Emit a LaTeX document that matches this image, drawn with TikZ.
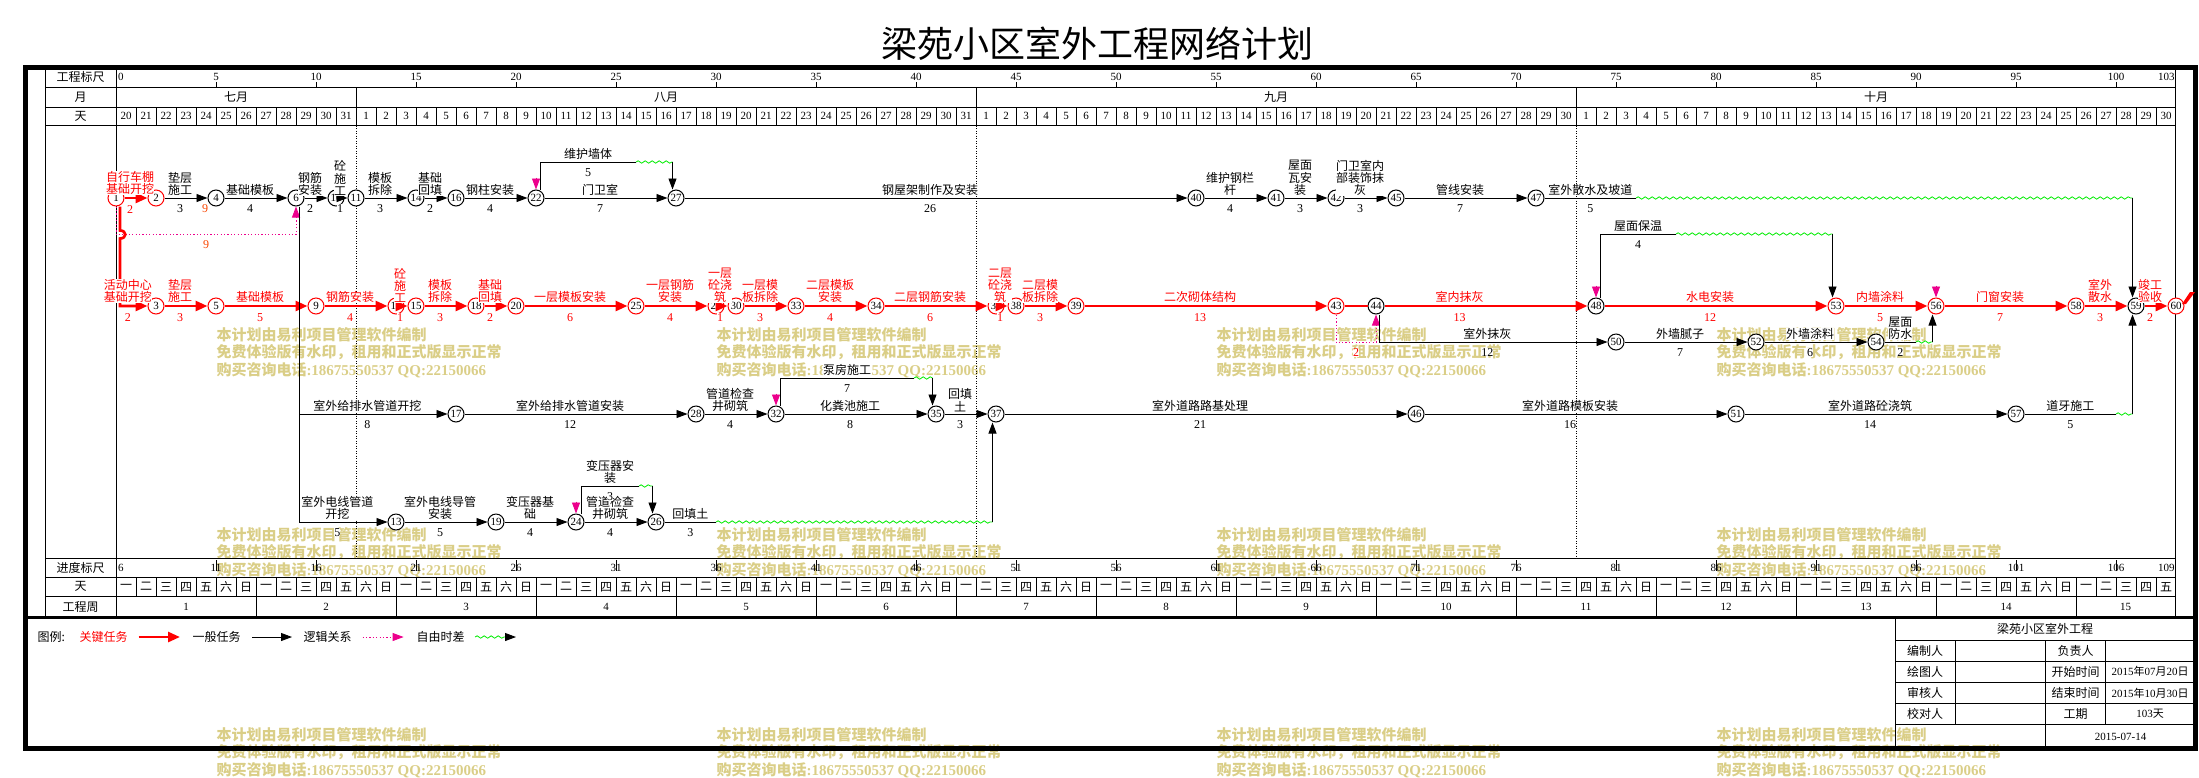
\documentclass[tikz,border=0pt]{standalone}
\usepackage{fontspec}
\setmainfont{Liberation Serif}
\newfontfamily\cjk{Noto Sans CJK SC}
\usetikzlibrary{arrows.meta,decorations.pathmorphing}
\definecolor{flt}{RGB}{0,235,0}
\definecolor{nine}{RGB}{250,70,0}
\definecolor{wmk}{RGB}{218,206,135}
\newcommand\zh[1]{{\cjk #1}}
\newcommand\labf{\cjk\fontsize{12}{12.3}\selectfont}
\newcommand\numf{\fontsize{12}{12}\selectfont}
\newcommand\smf{\fontsize{11}{11}\selectfont}

\tikzset{
  nd/.style={circle, draw, fill=white, minimum size=16pt, inner sep=0pt, font=\smf},
  cn/.style={nd, draw=red},
  task/.style={line width=0.9pt, -{Triangle[length=11pt,width=8pt]}},
  crit/.style={red, line width=2.7pt, -{Triangle[length=12pt,width=10pt]}},
  critline/.style={red, line width=2.7pt},
  logic/.style={magenta, line width=0.9pt, dash pattern=on 1.2pt off 2.2pt, -{Triangle[length=11pt,width=8pt]}},
  wav/.style={flt, line width=0.8pt, decorate, decoration={snake, amplitude=1.2pt, segment length=7pt}},
  lab0/.style={above=2pt, inner sep=0pt, fill=white, align=center, font=\labf},
  dur0/.style={below=6pt, inner sep=0pt, fill=white, font=\numf},
  lab/.style={lab0, xshift=-6pt},
  dur/.style={dur0, xshift=-6pt},
  clab/.style={lab, text=red},
  cdur/.style={dur, text=red},
  hd/.style={font=\labf, inner sep=0pt},
  hn/.style={font=\smf, inner sep=0pt},
  wmark/.style={anchor=west, inner sep=0pt, text=wmk, font=\bfseries\fontsize{15}{15}\selectfont},
}

\begin{document}
\begin{tikzpicture}[x=1pt, y=-1pt, line width=1pt]
    \useasboundingbox (0,0) rectangle (2199,777);

    % watermark
    \foreach \wx in {216,716,1216,1716} \foreach \wy in {335,535,735} {
      \node[wmark] (wa\wx\wy) at (\wx,\wy) {\zh{本计划由易利项目管理软件编制}};
      \node[wmark] (wb\wx\wy) at (\wx,\wy+17.5) {\zh{免费体验版有水印，租用和正式版显示正常}};
      \node[wmark] (wc\wx\wy) at (\wx,\wy+35) {\zh{购买咨询电话}:18675550537 QQ:22150066};
    }

    \node[font=\cjk\fontsize{36}{36}\selectfont, inner sep=0pt] (ttl) at (1097,43.5) {梁苑小区室外工程网络计划};

    % frame and scales
    \draw[line width=4.5pt] (25.5,67.7) rectangle (2195.5,748.5);
    \draw[line width=2.5pt] (25.5,617.5) -- (2195.5,617.5);
    \draw (45,67.7) -- (45,617.5) (116,67.7) -- (116,617.5) (2175,67.7) -- (2175,617.5);
    \foreach \y in {87.5,107,125.5,558.3,577.3,596.3} \draw (45,\y) -- (2175,\y);
    \foreach \i in {1,...,102} \draw ({116+20*\i},107) -- ({116+20*\i},125.5) ({116+20*\i},577.3) -- ({116+20*\i},596.3);
    \foreach \m in {12,43,73} {
      \draw ({116+20*\m},87.5) -- ({116+20*\m},107);
      \draw[line width=0.8pt, dash pattern=on 1pt off 1.5pt] ({116+20*\m},125.5) -- ({116+20*\m},558.3);
    }
    \foreach \t in {5,10,...,100} {
      \draw ({116+20*\t},82) -- ({116+20*\t},87.5);
      \draw ({116+20*\t},560) -- ({116+20*\t},571);
    }
    \foreach \k in {1,...,14} \draw ({116+140*\k},596.3) -- ({116+140*\k},617.5);

    \node[hd] (l1) at (80.5,77.3) {工程标尺};
    \node[hd] (l2) at (80.5,97.3) {月};
    \node[hd] (l3) at (80.5,116.3) {天};
    \node[hd] (l4) at (80.5,567.5) {进度标尺};
    \node[hd] (l5) at (80.5,586.8) {天};
    \node[hd] (l6) at (80.5,606.8) {工程周};

    \node[hn,anchor=west] (gk0) at (117.5,77.3) {0};
    \node[hn,anchor=east] (gk103) at (2175,77.3) {103};
    \foreach \t in {5,10,...,100} \node[hn] (gk\t) at ({116+20*\t},77.3) {\t};
    \node[hn,anchor=west] (jd0) at (117.5,567.5) {6};
    \node[hn,anchor=east] (jd103) at (2175,567.5) {109};
    \foreach \t [evaluate=\t as \s using int(\t+6)] in {5,10,...,100} \node[hn] (jd\t) at ({116+20*\t},567.5) {\s};

    \node[hd] (m7) at (236,97.3) {七月};
    \node[hd] (m8) at (666,97.3) {八月};
    \node[hd] (m9) at (1276,97.3) {九月};
    \node[hd] (m10) at (1876,97.3) {十月};
    \foreach \d [count=\i from 0] in {20,...,31} \node[hn] (dj\d) at ({126+20*\i},116.3) {\d};
    \foreach \d in {1,...,31} \node[hn] (da\d) at ({126+20*(11+\d)},116.3) {\d};
    \foreach \d in {1,...,30} \node[hn] (ds\d) at ({126+20*(42+\d)},116.3) {\d};
    \foreach \d in {1,...,30} \node[hn] (do\d) at ({126+20*(72+\d)},116.3) {\d};

    \foreach \i in {0,...,102} {
      \pgfmathtruncatemacro\w{mod(\i,7)}
      \node[hd] (wd\i) at ({126+20*\i},586.8) {\ifcase\w 一\or 二\or 三\or 四\or 五\or 六\or 日\fi};
    }
    \foreach \k in {1,...,14} \node[hn] (wk\k) at ({46+140*\k},606.8) {\k};
    \node[hn] (wk15) at (2125.5,606.8) {15};

    % network
    \begin{scope}[shift={(116pt,0pt)}, x=20pt]
    \node[cn] (n1) at (0,198) {1};
    \node[cn] (n2) at (2,198) {2};
    \node[nd] (n4) at (5,198) {4};
    \node[nd] (n6) at (9,198) {6};
    \node[nd] (n10) at (11,198) {10};
    \node[nd] (n11) at (12,198) {11};
    \node[nd] (n14) at (15,198) {14};
    \node[nd] (n16) at (17,198) {16};
    \node[nd] (n22) at (21,198) {22};
    \node[nd] (n27) at (28,198) {27};
    \node[nd] (n40) at (54,198) {40};
    \node[nd] (n41) at (58,198) {41};
    \node[nd] (n42) at (61,198) {42};
    \node[nd] (n45) at (64,198) {45};
    \node[nd] (n47) at (71,198) {47};

    \node[cn] (n3) at (2,306) {3};
    \node[cn] (n5) at (5,306) {5};
    \node[cn] (n9) at (10,306) {9};
    \node[cn] (n12) at (14,306) {12};
    \node[cn] (n15) at (15,306) {15};
    \node[cn] (n18) at (18,306) {18};
    \node[cn] (n20) at (20,306) {20};
    \node[cn] (n25) at (26,306) {25};
    \node[cn] (n29) at (30,306) {29};
    \node[cn] (n30) at (31,306) {30};
    \node[cn] (n33) at (34,306) {33};
    \node[cn] (n34) at (38,306) {34};
    \node[cn] (n36) at (44,306) {36};
    \node[cn] (n38) at (45,306) {38};
    \node[cn] (n39) at (48,306) {39};
    \node[cn] (n43) at (61,306) {43};
    \node[nd] (n44) at (63,306) {44};
    \node[nd] (n48) at (74,306) {48};
    \node[cn] (n53) at (86,306) {53};
    \node[cn] (n56) at (91,306) {56};
    \node[cn] (n58) at (98,306) {58};
    \node[nd] (n59) at (101,306) {59};
    \node[cn] (n60) at (103,306) {60};

    \node[nd] (n50) at (75,342) {50};
    \node[nd] (n52) at (82,342) {52};
    \node[nd] (n54) at (88,342) {54};

    \node[nd] (n17) at (17,414) {17};
    \node[nd] (n28) at (29,414) {28};
    \node[nd] (n32) at (33,414) {32};
    \node[nd] (n35) at (41,414) {35};
    \node[nd] (n37) at (44,414) {37};
    \node[nd] (n46) at (65,414) {46};
    \node[nd] (n51) at (81,414) {51};
    \node[nd] (n57) at (95,414) {57};

    \node[nd] (n13) at (14,522) {13};
    \node[nd] (n19) at (19,522) {19};
    \node[nd] (n24) at (23,522) {24};
    \node[nd] (n26) at (27,522) {26};

    \coordinate (s6) at ([xshift=3pt]n6.south);
    \coordinate (s44) at ([xshift=3pt]n44.south);
    \coordinate (u22) at ([xshift=4pt]n22.north);
    \coordinate (u32) at ([xshift=4pt]n32.north);
    \coordinate (u24) at ([xshift=5pt]n24.north);
    \coordinate (u48) at ([xshift=4pt]n48.north);
    \coordinate (t27) at ([xshift=-3.5pt]n27.north);
    \coordinate (t35) at ([xshift=-3.5pt]n35.north);
    \coordinate (t26) at ([xshift=-3.5pt]n26.north);
    \coordinate (t53) at ([xshift=-3.5pt]n53.north);
    \coordinate (t59) at ([xshift=-3.5pt]n59.north);
    \coordinate (b56) at ([xshift=-3.5pt]n56.south);
    \coordinate (b59) at ([xshift=-3.5pt]n59.south);
    \coordinate (b37) at ([xshift=-3.5pt]n37.south);
    \coordinate (w22) at (26,162);
    \coordinate (w47) at (76,198);
    \coordinate (w48) at (78,234);
    \coordinate (w54) at (90,342);
    \coordinate (w32) at (39.9,378);
    \coordinate (w57) at (100,414);
    \coordinate (w24) at (26.15,486);
    \coordinate (w26) at (30,522);

    % logic links
    \draw[logic] (n1.south) -- ++(0,28) -| node[pos=0.25,dur0,text=nine]{9} (n6);
    \draw[logic] (n43.south) -- ++(0,28) -| node[pos=0.25,dur0,text=red]{2} (n44);
    \foreach \m in {22,24,32,48,56} \draw[logic] ([yshift=12pt]n\m.north) -- (n\m.north);
    \node[dur0,text=nine] (x9) at (4.45,198) {9};

    % row 1
    \draw[crit] (n1) -- node[clab]{自行车棚\\基础开挖} node[cdur]{2} (n2);
    \draw[task] (n2) -- node[lab]{垫层\\施工} node[dur]{3} (n4);
    \draw[task] (n4) -- node[lab]{基础模板} node[dur]{4} (n6);
    \draw[task] (n6) -- node[lab]{钢筋\\安装} node[dur]{2} (n10);
    \draw[task] (n10) -- node[lab]{砼\\施\\工} node[dur]{1} (n11);
    \draw[task] (n11) -- node[lab]{模板\\拆除} node[dur]{3} (n14);
    \draw[task] (n14) -- node[lab]{基础\\回填} node[dur]{2} (n16);
    \draw[task] (n16) -- node[lab]{钢柱安装} node[dur]{4} (n22);
    \draw[task] (n22) -- node[lab]{门卫室} node[dur]{7} (n27);
    \draw[task,-] (u22) |- node[pos=0.75,lab0]{维护墙体} node[pos=0.75,dur0]{5} (w22);
    \draw[wav] (w22) -- (w22 -| t27);
    \draw[task] (w22 -| t27) -- (t27);
    \draw[task] (n27) -- node[lab]{钢屋架制作及安装} node[dur]{26} (n40);
    \draw[task] (n40) -- node[lab]{维护钢栏\\杆} node[dur]{4} (n41);
    \draw[task] (n41) -- node[lab]{屋面\\瓦安\\装} node[dur]{3} (n42);
    \draw[task] (n42) -- node[lab]{门卫室内\\部装饰抹\\灰} node[dur]{3} (n45);
    \draw[task] (n45) -- node[lab]{管线安装} node[dur]{7} (n47);
    \draw[task,-] (n47) -- node[lab0]{室外散水及坡道} node[dur0]{5} (w47);
    \draw[wav] (w47) -- (w47 -| t59);
    \draw[task] (w47 -| t59) -- (t59);

    % row 2, critical
    \draw[crit] ([xshift=4pt]n1.south) -- ++(0,24) .. controls +(7pt,0pt) and +(7pt,0pt) .. ++(0,8) |- node[pos=0.75,clab]{活动中心\\基础开挖} node[pos=0.75,cdur]{2} (n3);
    \draw[crit] (n3) -- node[clab]{垫层\\施工} node[cdur]{3} (n5);
    \draw[crit] (n5) -- node[clab]{基础模板} node[cdur]{5} (n9);
    \draw[crit] (n9) -- node[clab]{钢筋安装} node[cdur]{4} (n12);
    \draw[crit] (n12) -- node[clab]{砼\\施\\工} node[cdur]{1} (n15);
    \draw[crit] (n15) -- node[clab]{模板\\拆除} node[cdur]{3} (n18);
    \draw[crit] (n18) -- node[clab]{基础\\回填} node[cdur]{2} (n20);
    \draw[crit] (n20) -- node[clab]{一层模板安装} node[cdur]{6} (n25);
    \draw[crit] (n25) -- node[clab]{一层钢筋\\安装} node[cdur]{4} (n29);
    \draw[crit] (n29) -- node[clab]{一层\\砼浇\\筑} node[cdur]{1} (n30);
    \draw[crit] (n30) -- node[clab]{一层模\\板拆除} node[cdur]{3} (n33);
    \draw[crit] (n33) -- node[clab]{二层模板\\安装} node[cdur]{4} (n34);
    \draw[crit] (n34) -- node[clab]{二层钢筋安装} node[cdur]{6} (n36);
    \draw[crit] (n36) -- node[clab]{二层\\砼浇\\筑} node[cdur]{1} (n38);
    \draw[crit] (n38) -- node[clab]{二层模\\板拆除} node[cdur]{3} (n39);
    \draw[crit] (n39) -- node[clab]{二次砌体结构} node[cdur]{13} (n43);
    \draw[critline] (n43) -- (n44);
    \draw[crit] (n44) -- node[pos=0.4,clab]{室内抹灰} node[pos=0.4,cdur]{13} (n48);
    \draw[crit] (n48) -- node[clab]{水电安装} node[cdur]{12} (n53);
    \draw[crit] (n53) -- node[clab]{内墙涂料} node[cdur]{5} (n56);
    \draw[crit] (n56) -- node[clab]{门窗安装} node[cdur]{7} (n58);
    \draw[crit] (n58) -- node[clab]{室外\\散水} node[cdur]{3} (n59);
    \draw[crit] (n59) -- node[clab]{竣工\\验收} node[cdur]{2} (n60);
    \draw[task,-] (u48) |- node[pos=0.75,lab0]{屋面保温} node[pos=0.75,dur0]{4} (w48);
    \draw[wav] (w48) -- (w48 -| t53);
    \draw[task] (w48 -| t53) -- (t53);
    \draw[task] (s44) |- node[pos=0.75,lab]{室外抹灰} node[pos=0.75,dur]{12} (n50);
    \draw[task] (n50) -- node[lab]{外墙腻子} node[dur]{7} (n52);
    \draw[task] (n52) -- node[lab]{外墙涂料} node[dur]{6} (n54);
    \draw[task,-] (n54) -- node[lab0]{屋面\\防水} node[dur0]{2} (w54);
    \draw[wav] (w54) -- (w54 -| b56);
    \draw[task] (w54 -| b56) -- (b56);

    % row 3
    \draw[task] (s6) |- node[pos=0.75,lab]{室外给排水管道开挖} node[pos=0.75,dur]{8} (n17);
    \draw[task] (n17) -- node[lab]{室外给排水管道安装} node[dur]{12} (n28);
    \draw[task] (n28) -- node[lab]{管道检查\\井砌筑} node[dur]{4} (n32);
    \draw[task] (n32) -- node[lab]{化粪池施工} node[dur]{8} (n35);
    \draw[task,-] (u32) |- node[pos=0.75,lab0]{泵房施工} node[pos=0.75,dur0]{7} (w32);
    \draw[wav] (w32) -- (w32 -| t35);
    \draw[task] (w32 -| t35) -- (t35);
    \draw[task] (n35) -- node[lab]{回填\\土} node[dur]{3} (n37);
    \draw[task] (n37) -- node[lab]{室外道路路基处理} node[dur]{21} (n46);
    \draw[task] (n46) -- node[lab]{室外道路模板安装} node[dur]{16} (n51);
    \draw[task] (n51) -- node[lab]{室外道路砼浇筑} node[dur]{14} (n57);
    \draw[task,-] (n57) -- node[lab0]{道牙施工} node[dur0]{5} (w57);
    \draw[wav] (w57) -- (w57 -| b59);
    \draw[task] (w57 -| b59) -- (b59);

    % row 4
    \draw[task] (s6) |- node[pos=0.75,lab]{室外电线管道\\开挖} node[pos=0.75,dur]{5} (n13);
    \draw[task] (n13) -- node[lab]{室外电线导管\\安装} node[dur]{5} (n19);
    \draw[task] (n19) -- node[lab]{变压器基\\础} node[dur]{4} (n24);
    \draw[task] (n24) -- node[lab]{管道检查\\井砌筑} node[dur]{4} (n26);
    \draw[task,-] (u24) |- node[pos=0.75,lab0]{变压器安\\装} node[pos=0.75,dur0]{3} (w24);
    \draw[wav] (w24) -- (w24 -| t26);
    \draw[task] (w24 -| t26) -- (t26);
    \draw[task,-] (n26) -- node[lab0]{回填土} node[dur0]{3} (w26);
    \draw[wav] (w26) -- (w26 -| b37);
    \draw[task] (w26 -| b37) -- (b37);
    \end{scope}

    \fill[red] ([shift={(6pt,2pt)}]n60.center) -- ([shift={(14pt,14pt)}]n60.center) -- ([shift={(19pt,14pt)}]n60.center) -- ([shift={(10pt,2pt)}]n60.center) -- cycle;

    % legend
    \node[hd,anchor=west] (lg0) at (37,637) {图例:};
    \node[hd,anchor=west,text=red] (lg1) at (79,637) {关键任务};
    \node[hd,anchor=west] (lg2) at (192,637) {一般任务};
    \node[hd,anchor=west] (lg3) at (303,637) {逻辑关系};
    \node[hd,anchor=west] (lg4) at (416,637) {自由时差};
    \coordinate (la1) at (138.6,637); \coordinate (lb1) at (180,637);
    \coordinate (la2) at (252,637); \coordinate (lb2) at (292,637);
    \coordinate (la3) at (362.5,637); \coordinate (lb3) at (403.6,637);
    \coordinate (la4) at (475,637); \coordinate (lm4) at (505,637); \coordinate (lb4) at (516,637);
    \draw[crit] (la1) -- (lb1);
    \draw[task] (la2) -- (lb2);
    \draw[logic] (la3) -- (lb3);
    \draw[wav] (la4) -- (lm4);
    \draw[task] (lm4) -- (lb4);

    % title block
    \draw (1895,617.5) -- (1895,748.5);
    \foreach \y in {640,661,682.3,703.3,724.3} \draw (1895,\y) -- (2195.5,\y);
    \draw (1955.5,640) -- (1955.5,724.3) (2045.7,640) -- (2045.7,748.5) (2105.2,640) -- (2105.2,724.3);
    \node[hd] (tb0) at (2045,628.5) {梁苑小区室外工程};
    \node[hd] (tb1) at (1925,650.5) {编制人};
    \node[hd] (tb2) at (1925,671.7) {绘图人};
    \node[hd] (tb3) at (1925,692.8) {审核人};
    \node[hd] (tb4) at (1925,713.8) {校对人};
    \node[hd] (tb5) at (2075.5,650.5) {负责人};
    \node[hd] (tb6) at (2075.5,671.7) {开始时间};
    \node[hd] (tb7) at (2075.5,692.8) {结束时间};
    \node[hd] (tb8) at (2075.5,713.8) {工期};
    \node[hn] (tb9) at (2150,671.7) {2015\zh{年}07\zh{月}20\zh{日}};
    \node[hn] (tb10) at (2150,692.8) {2015\zh{年}10\zh{月}30\zh{日}};
    \node[hn] (tb11) at (2150,713.8) {103\zh{天}};
    \node[hn] (tb12) at (2120.6,736.4) {2015-07-14};
\end{tikzpicture}
\end{document}
